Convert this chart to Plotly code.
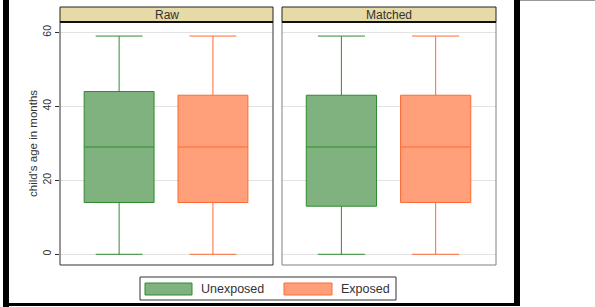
import plotly.graph_objects as go
from plotly.subplots import make_subplots

# ---- data ----
panels = ["Raw", "Matched"]
groups = ["Unexposed", "Exposed"]
lower = {"Raw": [0, 0], "Matched": [0, 0]}
q1 = {"Raw": [14, 14], "Matched": [13, 14]}
median = {"Raw": [29, 29], "Matched": [29, 29]}
q3 = {"Raw": [44, 43], "Matched": [43, 43]}
upper = {"Raw": [59, 59], "Matched": [59, 59]}
y_ticks = [0, 20, 40, 60]
y_title = "child's age in months"

fill_colors = ["#80B280", "#FFA07A"]
line_colors = ["#2E8B2E", "#FF6A33"]

W, H = 595, 307
def px(x):
    return x / W
def py(y):
    return 1 - y / H

dom_x = [(60, 273), (282, 496)]
dom_y = (22, 265)

fig = make_subplots(rows=1, cols=2)

for i, pnl in enumerate(panels):
    for g, grp in enumerate(groups):
        fig.add_trace(go.Box(
            x=[grp], q1=[q1[pnl][g]], median=[median[pnl][g]], q3=[q3[pnl][g]],
            lowerfence=[lower[pnl][g]], upperfence=[upper[pnl][g]],
            fillcolor=fill_colors[g], line=dict(color=line_colors[g], width=1),
            width=0.745, whiskerwidth=0.67, boxpoints=False, showlegend=False,
            name=grp, hoverinfo="skip"), row=1, col=i + 1)

for i in range(2):
    xa = "xaxis" if i == 0 else "xaxis2"
    ya = "yaxis" if i == 0 else "yaxis2"
    fig.layout[xa].update(domain=[px(dom_x[i][0]), px(dom_x[i][1])],
                          type="category", categoryorder="array", categoryarray=groups,
                          range=[-0.63, 1.64], showticklabels=False, ticks="",
                          showgrid=False, zeroline=False, showline=False, automargin=False)
    fig.layout[ya].update(domain=[py(dom_y[1]), py(dom_y[0])], range=[-2.9, 62.8],
                          tickvals=y_ticks, showgrid=True, gridcolor="#E2E2E2", gridwidth=1,
                          zeroline=False, showline=False, automargin=False,
                          showticklabels=(i == 0), ticks="outside" if i == 0 else "",
                          ticklen=4, tickcolor="#333", tickangle=-90,
                          tickfont=dict(family="Liberation Sans, Arial", size=10.5, color="#333"))

shapes = []
anns = []
border_colors = ["#333333", "#808080"]
for i, pnl in enumerate(panels):
    x0, x1 = dom_x[i]
    shapes.append(dict(type="rect", xref="paper", yref="paper", x0=px(x0), x1=px(x1),
                       y0=py(dom_y[1]), y1=py(dom_y[0]), line=dict(color=border_colors[i], width=1),
                       fillcolor="rgba(0,0,0,0)", layer="above"))
    shapes.append(dict(type="rect", xref="paper", yref="paper", x0=px(x0), x1=px(x1),
                       y0=py(22), y1=py(7), line=dict(color="#222", width=1),
                       fillcolor="#E6DAA6", layer="above"))
    shapes.append(dict(type="line", xref="paper", yref="paper", x0=px(x0), x1=px(x1),
                       y0=py(22), y1=py(22), line=dict(color="#111", width=2), layer="above"))
    anns.append(dict(text=pnl, xref="paper", yref="paper", x=px((x0 + x1) / 2), y=py(14.5),
                     showarrow=False, xanchor="center", yanchor="middle",
                     font=dict(family="Liberation Sans, Arial", size=12, color="#333")))

anns.append(dict(text=y_title, xref="paper", yref="paper", x=px(33), y=py(144), textangle=-90,
                 showarrow=False, xanchor="center", yanchor="middle",
                 font=dict(family="Liberation Sans, Arial", size=11.5, color="#333")))

# legend (custom)
shapes.append(dict(type="rect", xref="paper", yref="paper", x0=px(140), x1=px(396),
                   y0=py(300), y1=py(277), line=dict(color="#333", width=1), fillcolor="white"))
leg_sw = [(145, 192), (284, 332)]
leg_tx = [199, 339]
for g, grp in enumerate(groups):
    shapes.append(dict(type="rect", xref="paper", yref="paper", x0=px(leg_sw[g][0]), x1=px(leg_sw[g][1]),
                       y0=py(295), y1=py(283), line=dict(color=line_colors[g], width=1),
                       fillcolor=fill_colors[g]))
    anns.append(dict(text=grp, xref="paper", yref="paper", x=px(leg_tx[g]), y=py(289),
                     showarrow=False, xanchor="left", yanchor="middle",
                     font=dict(family="Liberation Sans, Arial", size=12.5, color="#333")))

# outer frame
shapes.append(dict(type="rect", xref="paper", yref="paper", x0=px(3), x1=px(9), y0=py(307), y1=py(0),
                   line=dict(width=0), fillcolor="black"))
shapes.append(dict(type="rect", xref="paper", yref="paper", x0=px(514), x1=px(520), y0=py(306), y1=py(0),
                   line=dict(width=0), fillcolor="black"))
shapes.append(dict(type="rect", xref="paper", yref="paper", x0=px(3), x1=px(520), y0=py(306), y1=py(303),
                   line=dict(width=0), fillcolor="black"))
shapes.append(dict(type="line", xref="paper", yref="paper", x0=px(520), x1=px(595), y0=py(0.5), y1=py(0.5),
                   line=dict(color="#999", width=1)))

fig.update_layout(width=W, height=H, margin=dict(l=0, r=0, t=0, b=0),
                  paper_bgcolor="white", plot_bgcolor="white",
                  shapes=shapes, annotations=anns, showlegend=False)

fig.write_html("out.html")
